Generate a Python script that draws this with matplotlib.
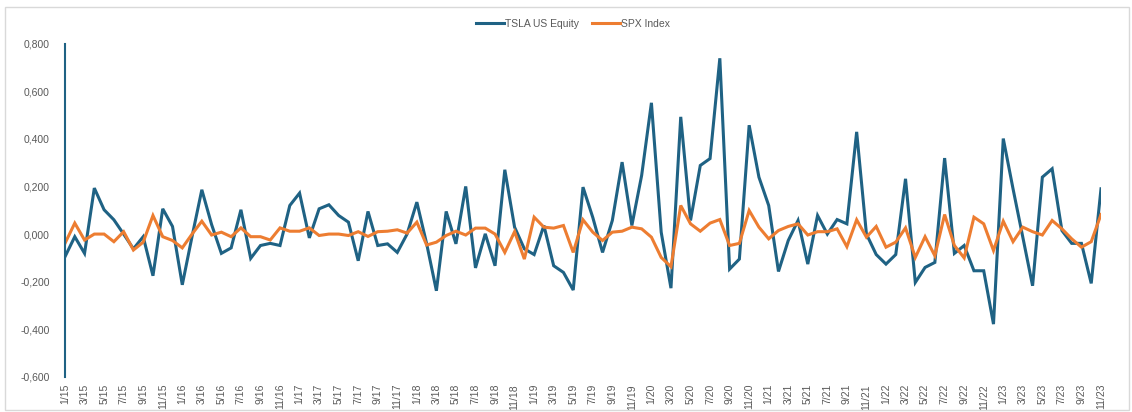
import matplotlib
matplotlib.use("Agg")
import matplotlib.pyplot as plt
from matplotlib.patches import Rectangle
from matplotlib.ticker import FuncFormatter, FixedLocator

# ---- data ----
months = [f"{m}/{y}" for y in range(15, 24) for m in range(1, 13)][:107]  # 1/15 .. 11/23

tsla = [
    -0.095, -0.011, -0.081, 0.193, 0.102, 0.060, 0.000, -0.062, -0.011, -0.175,
    0.106, 0.032, -0.213, -0.010, 0.186, 0.040, -0.081, -0.058, 0.102, -0.102,
    -0.048, -0.039, -0.048, 0.120, 0.172, -0.016, 0.106, 0.123, 0.078, 0.050,
    -0.112, 0.095, -0.048, -0.041, -0.077, 0.000, 0.134, -0.040, -0.238, 0.095,
    -0.041, 0.200, -0.142, 0.001, -0.133, 0.270, 0.029, -0.062, -0.086, 0.036,
    -0.133, -0.161, -0.235, 0.197, 0.070, -0.077, 0.057, 0.302, 0.036, 0.246,
    0.551, 0.008, -0.227, 0.492, 0.057, 0.288, 0.317, 0.738, -0.147, -0.105,
    0.457, 0.239, 0.120, -0.157, -0.027, 0.057, -0.126, 0.078, 0.000, 0.061,
    0.043, 0.429, 0.000, -0.086, -0.126, -0.086, 0.232, -0.203, -0.140, -0.119,
    0.319, -0.081, -0.048, -0.154, -0.154, -0.378, 0.401, 0.190, -0.013, -0.217,
    0.239, 0.274, 0.015, -0.039, -0.039, -0.207, 0.190,
]

spx = [
    -0.039, 0.046, -0.025, 0.000, 0.000, -0.032, 0.010, -0.067, -0.034, 0.078,
    -0.011, -0.027, -0.058, 0.000, 0.054, -0.004, 0.008, -0.011, 0.026, -0.011,
    -0.011, -0.025, 0.026, 0.012, 0.012, 0.026, -0.006, 0.000, 0.000, -0.006,
    0.010, -0.010, 0.010, 0.012, 0.018, 0.004, 0.050, -0.046, -0.034, -0.006,
    0.012, -0.004, 0.025, 0.025, 0.000, -0.077, 0.010, -0.105, 0.071, 0.029,
    0.025, 0.036, -0.077, 0.060, 0.008, -0.027, 0.008, 0.012, 0.029, 0.022,
    -0.013, -0.098, -0.137, 0.120, 0.043, 0.012, 0.046, 0.061, -0.048, -0.039,
    0.099, 0.029, -0.020, 0.015, 0.032, 0.043, -0.004, 0.010, 0.010, 0.022,
    -0.053, 0.060, -0.013, 0.032, -0.055, -0.034, 0.026, -0.098, -0.011, -0.091,
    0.082, -0.048, -0.100, 0.071, 0.043, -0.069, 0.054, -0.032, 0.029, 0.010,
    -0.004, 0.057, 0.022, -0.020, -0.055, -0.032, 0.082,
]

series_names = ["TSLA US Equity", "SPX Index"]
y_ticks = [-0.6, -0.4, -0.2, 0.0, 0.2, 0.4, 0.6, 0.8]

# ---- style ----
BLUE = "#1f6284"
ORANGE = "#ed7d31"
GRAY = "#595959"
plt.rcParams["font.family"] = ["Liberation Sans", "DejaVu Sans"]

fig = plt.figure(figsize=(11.32, 4.12), dpi=100)
fig.patches.append(Rectangle((5 / 1132, 1 - 410 / 412), 1124 / 1132, 403 / 412,
                             transform=fig.transFigure, fill=False,
                             edgecolor="#d9d9d9", linewidth=1.0))

ax = fig.add_axes([65 / 1132, 1 - 377 / 412, (1101 - 65) / 1132, (377 - 43.5) / 412])
x = list(range(len(months)))
ax.plot(x, tsla, color=BLUE, linewidth=2.2, label=series_names[0], solid_joinstyle="miter")
ax.plot(x, spx, color=ORANGE, linewidth=2.2, label=series_names[1], solid_joinstyle="miter")

ax.set_xlim(0, len(months) - 1)
ax.set_ylim(-0.6, 0.8)
ax.yaxis.set_major_locator(FixedLocator(y_ticks))
ax.yaxis.set_major_formatter(FuncFormatter(lambda v, p: f"{v:.3f}".replace(".", ",").replace("-0,000", "0,000")))
ax.set_xticks(x[::2])
ax.set_xticklabels(months[::2], rotation=90)

for side in ["top", "right", "bottom"]:
    ax.spines[side].set_visible(False)
ax.spines["left"].set_color(BLUE)
ax.spines["left"].set_linewidth(1.5)

ax.tick_params(axis="y", length=0, pad=11, labelsize=7.5, labelcolor=GRAY)
ax.tick_params(axis="x", length=0, pad=5, labelsize=7.5, labelcolor=GRAY)

leg = fig.legend(loc="center", bbox_to_anchor=(573 / 1132, 1 - 24 / 412), ncol=2,
                 frameon=False, fontsize=7.5, handlelength=2.7, handletextpad=0.15,
                 columnspacing=1.2, labelcolor=GRAY)
for h in leg.get_lines():
    h.set_linewidth(2.2)

fig.savefig("out.png", dpi=100)
